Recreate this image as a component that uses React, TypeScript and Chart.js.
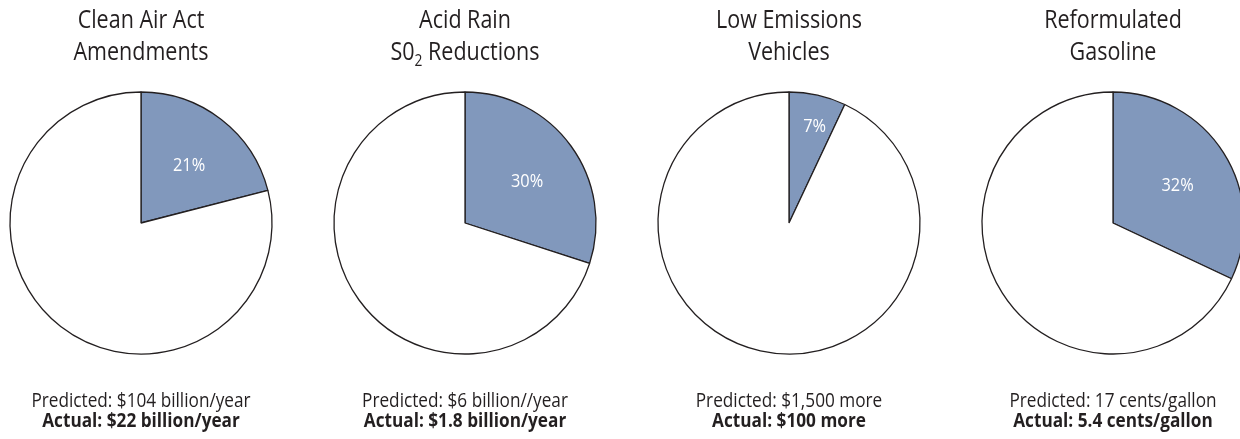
import React, { useEffect, useRef } from "react";
import { Chart, registerables } from "chart.js";

Chart.register(...registerables);

const titleLines: string[][] = [
  ["Clean Air Act", "Amendments"],
  ["Acid Rain", "S0_2 Reductions"],
  ["Low Emissions", "Vehicles"],
  ["Reformulated", "Gasoline"],
];
const actualShare: number[] = [21, 30, 7, 32];
const predictedText: string[] = [
  "Predicted: $104 billion/year",
  "Predicted: $6 billion//year",
  "Predicted: $1,500 more",
  "Predicted: 17 cents/gallon",
];
const actualText: string[] = [
  "Actual: $22 billion/year",
  "Actual: $1.8 billion/year",
  "Actual: $100 more",
  "Actual: 5.4 cents/gallon",
];

const FONT = '"Open Sans", "Noto Sans", sans-serif';
const SQUEEZE = 0.86;
const FILL = "#8198bc";
const EDGE = "#231f20";
const W = 324;
const H = 439;
const R = 131;
const CY = 223;
const CENTERS = [141, 465, 789, 1113];

// draws text horizontally condensed (narrow typeface look), anchored at x
function fillNarrow(
  ctx: CanvasRenderingContext2D,
  text: string,
  x: number,
  y: number,
  align: CanvasTextAlign
) {
  ctx.save();
  ctx.translate(x, y);
  ctx.scale(SQUEEZE, 1);
  ctx.textAlign = align;
  ctx.fillText(text, 0, 0);
  ctx.restore();
}

function drawTitleLine(ctx: CanvasRenderingContext2D, text: string, cx: number, y: number) {
  const idx = text.indexOf("_");
  const big = `25px ${FONT}`;
  const small = `16px ${FONT}`;
  ctx.font = big;
  if (idx < 0) {
    fillNarrow(ctx, text, cx, y, "center");
    return;
  }
  const pre = text.slice(0, idx);
  const sub = text.slice(idx + 1, idx + 2);
  const post = text.slice(idx + 2);
  ctx.font = big;
  const wPre = ctx.measureText(pre).width * SQUEEZE;
  const wPost = ctx.measureText(post).width * SQUEEZE;
  ctx.font = small;
  const wSub = ctx.measureText(sub).width * SQUEEZE;
  let x = cx - (wPre + wSub + wPost) / 2;
  ctx.font = big;
  fillNarrow(ctx, pre, x, y, "left");
  x += wPre;
  ctx.font = small;
  fillNarrow(ctx, sub, x, y + 6, "left");
  x += wSub;
  ctx.font = big;
  fillNarrow(ctx, post, x, y, "left");
}

const textPlugin = {
  id: "pieText",
  afterDraw(chart: any, _args: any, opts: any) {
    const ctx: CanvasRenderingContext2D = chart.ctx;
    const i: number = opts.index;
    const cx = chart.width / 2;
    ctx.save();
    ctx.fillStyle = "#231f20";
    ctx.textBaseline = "alphabetic";
    drawTitleLine(ctx, titleLines[i][0], cx, 28);
    drawTitleLine(ctx, titleLines[i][1], cx, 60);
    ctx.font = `20px ${FONT}`;
    fillNarrow(ctx, predictedText[i], cx, 407, "center");
    ctx.font = `bold 20px ${FONT}`;
    fillNarrow(ctx, actualText[i], cx, 427, "center");

    // slice label
    const arc = chart.getDatasetMeta(0).data[0];
    const mid = (arc.startAngle + arc.endAngle) / 2 + 0.04;
    const frac = actualShare[i] < 10 ? 0.76 : 0.57;
    const lx = arc.x + Math.cos(mid) * arc.outerRadius * frac;
    const ly = arc.y + Math.sin(mid) * arc.outerRadius * frac;
    ctx.fillStyle = "#ffffff";
    ctx.font = `19px ${FONT}`;
    ctx.textBaseline = "middle";
    fillNarrow(ctx, `${actualShare[i]}%`, lx, ly, "center");
    ctx.restore();
  },
};

function PieCanvas({ index }: { index: number }) {
  const ref = useRef<HTMLCanvasElement>(null);
  useEffect(() => {
    if (!ref.current) return;
    const chart = new Chart(ref.current, {
      type: "pie",
      data: {
        labels: ["Actual", "Remainder"],
        datasets: [
          {
            data: [actualShare[index], 100 - actualShare[index]],
            backgroundColor: [FILL, "#ffffff"],
            borderColor: EDGE,
            borderWidth: 1.3,
          },
        ],
      },
      options: {
        animation: false,
        responsive: false,
        radius: R,
        layout: { padding: { top: CY - R - 10, bottom: H - CY - R - 10, left: 20, right: 20 } },
        plugins: {
          legend: { display: false },
          tooltip: { enabled: false },
          title: { display: false },
          pieText: { index },
        } as any,
      },
      plugins: [textPlugin],
    });
    return () => chart.destroy();
  }, [index]);
  return (
    <canvas
      ref={ref}
      width={W}
      height={H}
      style={{ position: "absolute", left: CENTERS[index] - W / 2, top: 0, width: W, height: H }}
    />
  );
}

export default function App() {
  return (
    <div
      style={{
        position: "absolute",
        left: 0,
        top: 0,
        width: 1240,
        height: 439,
        overflow: "hidden",
        background: "#ffffff",
      }}
    >
      {actualShare.map((_, i) => (
        <PieCanvas key={i} index={i} />
      ))}
    </div>
  );
}
